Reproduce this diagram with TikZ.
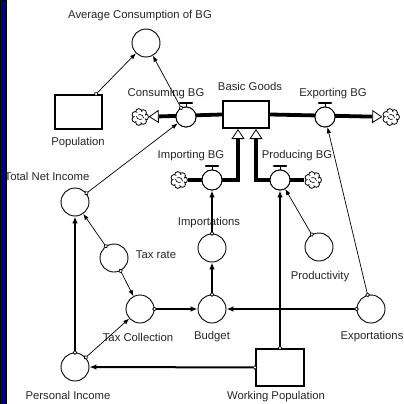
\documentclass[tikz,border=0pt]{standalone}
\usepackage{fontspec}
\setmainfont{Liberation Sans}
\usetikzlibrary{arrows.meta}
\definecolor{barblue}{RGB}{0,0,122}
\tikzset{
  txt/.style={font=\fontsize{11.3}{13}\selectfont, text=black!85, inner sep=0pt},
  conv/.style={circle, draw, line width=0.9pt, fill=white, minimum size=28pt, inner sep=0pt},
  valve/.style={circle, draw, line width=0.9pt, fill=white, minimum size=20pt, inner sep=0pt},
  stock/.style={rectangle, draw, line width=2pt, fill=white, inner sep=0pt},
  sink/.style={circle, minimum size=17pt, inner sep=0pt},
  pipe/.style={line width=3.8pt, -{Triangle[open, fill=white, line width=0.8pt, length=10pt, width=13pt]}},
  info/.style={line width=0.7pt, {Circle[fill=white, line width=0.7pt, length=4.5pt]}-{Latex[length=6pt, width=4.5pt]}, shorten <=-2.2pt},
  link/.style={line width=2pt, {Circle[fill=white, line width=0.7pt, length=4.5pt]}-{Latex[length=7pt, width=5.5pt]}, shorten <=-2.2pt},
}
\def\handle(#1){\draw[line width=0.8pt] (#1.north) -- ([yshift=3pt]#1.north);
  \draw[line width=2.6pt, line cap=round] ([xshift=-6pt,yshift=3.5pt]#1.north) -- ([xshift=6pt,yshift=3.5pt]#1.north);}
\def\puffs(#1){\begin{scope}[shift={(#1.center)}]
  \foreach \a in {0,51.43,...,350} \filldraw[fill=white, line width=0.8pt] (\a:5.4pt) circle (3.1pt);
  \fill[white] (0,0) circle (5.6pt);
  \draw[line width=0.6pt] (-3.5pt,1pt) arc (180:300:3.5pt) (3.5pt,-1pt) arc (0:120:3.5pt);
  \end{scope}}
\begin{document}
\begin{tikzpicture}[x=1pt, y=-1pt]
			\useasboundingbox (0,0) rectangle (404,404);
			\fill[white] (0,0) rectangle (404,404);
			
			%%%%% FLOWS %%%%%
			\node[stock, minimum width=46pt, minimum height=27pt] (bg) at (246,114.5) {};
			\node[valve] (consv) at (186,117) {};
			\node[valve] (expv) at (325,117) {};
			\node[valve] (impv) at (212,180) {};
			\node[valve] (prodv) at (280,180) {};
			\node[sink] (conscl) at (140,117) {};
			\node[sink] (expcl) at (391,117) {};
			\node[sink] (impcl) at (179,180) {};
			\node[sink] (prodcl) at (313,180) {};
			\puffs(conscl)
			\puffs(expcl)
			\puffs(impcl)
			\puffs(prodcl)
			
			\draw[pipe] (bg.west) -- (conscl);
			\draw[pipe] (bg.east) -- (expcl);
			\draw[pipe] (impcl) -- (impv.center) -| ([xshift=-8pt]bg.south);
			\draw[pipe] (prodcl) -- (prodv.center) -| ([xshift=10pt]bg.south);
			
			\node[valve] at (consv) {};
			\node[valve] at (expv) {};
			\node[valve] at (impv) {};
			\node[valve] at (prodv) {};
			\handle(consv)
			\handle(expv)
			\handle(impv)
			\handle(prodv)
			
			%%%%% STOCKS AND CONVERTERS %%%%%
			\node[stock, minimum width=47pt, minimum height=34pt] (pop) at (78.5,112) {};
			\node[stock, minimum width=48pt, minimum height=37pt] (wpop) at (280,367.5) {};
			\node[conv] (avg) at (146,43) {};
			\node[conv] (tni) at (75,202) {};
			\node[conv] (trate) at (114,258) {};
			\node[conv] (taxc) at (140,309) {};
			\node[conv] (budget) at (212,309) {};
			\node[conv] (imports) at (212,248) {};
			\node[conv] (prodty) at (319,247) {};
			\node[conv] (exports) at (371,309) {};
			\node[conv] (pinc) at (75,367) {};
			
			%%%%% LABELS %%%%%
			\node[txt] (avgl) at (140,16) {Average Consumption of BG};
			\node[txt] (popl) at (78,143) {Population};
			\node[txt] (consl) at (166,94) {Consuming BG};
			\node[txt] (bgl) at (250,86) {Basic Goods};
			\node[txt] (expl) at (333,94) {Exporting BG};
			\node[txt] (impl) at (191,156) {Importing BG};
			\node[txt] (prodl) at (297,156) {Producing BG};
			\node[txt] (tnil) at (47,176) {Total Net Income};
			\node[txt] (tratel) at (156,255) {Tax rate};
			\node[txt] (importsl) at (209,223) {Importations};
			\node[txt] (prodtyl) at (320,277) {Productivity};
			\node[txt] (taxcl) at (138,337) {Tax Collection};
			\node[txt] (budgetl) at (212,337) {Budget};
			\node[txt] (exportsl) at (372,337) {Exportations};
			\node[txt] (pincl) at (68,395) {Personal Income};
			\node[txt] (wpopl) at (276,397) {Working Population};
			
			%%%%% CONNECTORS %%%%%
			\draw[info] (pop) -- (avg);
			\draw[info] (consv) -- (avg);
			\draw[info] (tni) -- (consv);
			\draw[info] (trate) -- (tni);
			\draw[info] (trate) -- (taxc);
			\draw[info] (pinc) -- (taxc);
			\draw[info] (prodty) -- (prodv);
			\draw[info] (exports) -- (expv);
			
			\draw[link] (pinc) -- (tni);
			\draw[link] (taxc) -- (budget);
			\draw[link] (exports) -- (budget);
			\draw[link] (budget) -- (imports);
			\draw[link] (imports) -- (impv);
			\draw[link] (wpop) -- (pinc);
			\draw[link] (wpop.north -| prodv) -- (prodv);
			
			\draw[fill=barblue] (0,0) rectangle (6,404);
\end{tikzpicture}
\end{document}
